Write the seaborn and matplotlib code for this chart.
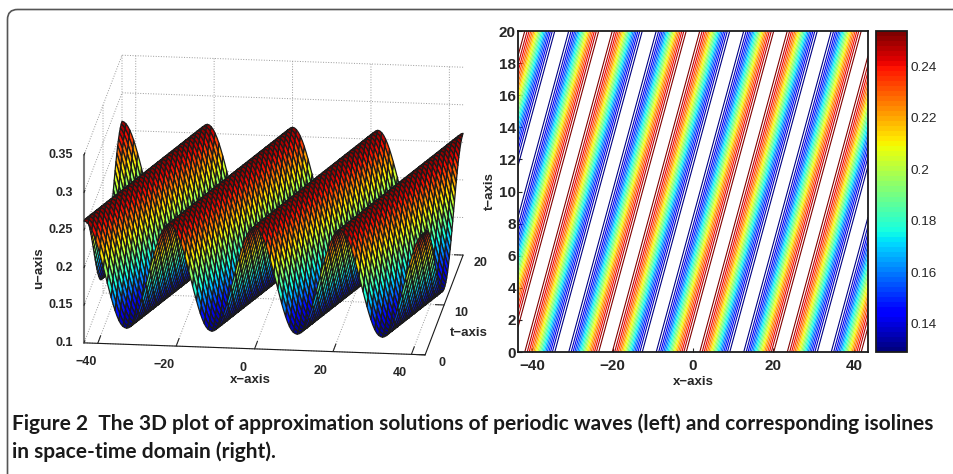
import numpy as np
import matplotlib
matplotlib.use("Agg")
import matplotlib.pyplot as plt
from matplotlib.colors import Normalize
from matplotlib.cm import ScalarMappable
from matplotlib.patches import FancyBboxPatch
from mpl_toolkits.mplot3d import proj3d
import seaborn as sns

# one period of the wave
u_profile = [0.262, 0.2613, 0.2591, 0.2556, 0.2507, 0.2447, 0.2375, 0.2294, 0.2205, 0.2110, 0.2011,
             0.1910, 0.1809, 0.1710, 0.1615, 0.1526, 0.1445, 0.1373, 0.1313, 0.1268, 0.1238, 0.1222,
             0.1215, 0.1222, 0.1238, 0.1268, 0.1313, 0.1373, 0.1445, 0.1526, 0.1615, 0.1710, 0.1809,
             0.1910, 0.2011, 0.2110, 0.2205, 0.2294, 0.2375, 0.2447, 0.2507, 0.2556, 0.2591, 0.2613]
periods = 4
x_range = [-43.5, 43.5]
t_range = [0, 20]
u_range = [0.1, 0.35]
x_ticks = [-40, -20, 0, 20, 40]
t_ticks_3d = [0, 10, 20]
t_ticks_2d = list(range(0, 21, 2))
u_ticks = [0.1, 0.15, 0.2, 0.25, 0.3, 0.35]
u_tick_labels = ["0.1", "0.15", "0.2", "0.25", "0.3", "0.35"]
level_range = [0.1291, 0.2536]
n_levels = 20
cbar_ticks = [0.14, 0.16, 0.18, 0.2, 0.22, 0.24]
cbar_labels = ["0.14", "0.16", "0.18", "0.2", "0.22", "0.24"]
caption = ["Figure 2  The 3D plot of approximation solutions of periodic waves (left) and corresponding isolines",
           "in space-time domain (right)."]

sns.set_theme(style="white")
plt.rcParams["font.family"] = ["Liberation Sans", "DejaVu Sans"]
W, H = 954, 474
fig = plt.figure(figsize=(W / 100, H / 100), dpi=100)
jet64 = plt.get_cmap("jet", 64)

profile = np.array(u_profile)
N = len(profile)
x = np.linspace(x_range[0], x_range[1], periods * N + 1)
t = np.linspace(t_range[0], t_range[1], N + 1)
X, T = np.meshgrid(x, t)
kk, jj = np.meshgrid(np.arange(len(x)), np.arange(len(t)))
U = profile[(kk - jj) % N]


def rect(l, top, r, b):
    return [l / W, 1 - b / H, (r - l) / W, (b - top) / H]


# page frame
frame = FancyBboxPatch((7.5, -40), 1100, 40 + 464.5, boxstyle="round,pad=0,rounding_size=10",
                       transform=None, fc="none", ec="#555555", lw=1.2)
fig.add_artist(frame)

# 3D surface
ax3 = fig.add_axes([16.5 / W, 11.9 / H, 500.6 / W, 500.6 / H], projection="3d", proj_type="ortho")
ax3.patch.set_visible(False)
ax3.view_init(elev=17.7, azim=-83.4)
ax3.set_box_aspect((343, 330, 197))
ax3.plot_surface(X, T, U, cmap="jet", vmin=min(u_profile), vmax=max(u_profile), rstride=1, cstride=2,
                 edgecolor="k", linewidth=0.9, antialiased=True, shade=False)
ax3.set_xlim(x_range)
ax3.set_ylim(t_range)
ax3.set_zlim(u_range)
ax3.set_xticks(x_ticks)
ax3.set_yticks(t_ticks_3d)
ax3.set_zticks(u_ticks)
ax3.set_xticklabels([])
ax3.set_yticklabels([])
ax3.set_zticklabels([])
for axis, out in ((ax3.xaxis, 0.95), (ax3.yaxis, 0.32), (ax3.zaxis, 0.28)):
    axis.set_pane_color((1, 1, 1, 0))
    axis.pane.set_edgecolor((1, 1, 1, 0))
    axis._axinfo["grid"].update(color="#999999", linestyle=":", linewidth=0.7)
    axis._axinfo["tick"].update(inward_factor=0, outward_factor=out, linewidth={True: 0.8, False: 0.8})
    axis.line.set_color("k")
    axis.line.set_linewidth(0.8)
ax3.zaxis.line.set_color("#777777")
ax3.zaxis.line.set_linewidth(1.5)
ax3.zaxis.set_ticks_position("lower")
ax3.zaxis.set_label_position("lower")
ax3.set_xlabel("")
ax3.set_ylabel("")
ax3.set_zlabel("")


def px(xv, tv, uv):
    """Pixel position (from the top left) of a data point of the 3D axes."""
    a, b, _ = proj3d.proj_transform(xv, tv, uv, ax3.get_proj())
    dx, dy = ax3.transData.transform((a, b))
    return dx, H - dy


def label(xp, yp, s, ha="center", size=9, rot=0):
    fig.text(xp / W, 1 - yp / H, s, ha=ha, va="center", fontsize=size, fontweight="bold", rotation=rot)


ax3.apply_aspect()
for v in x_ticks:
    a, b = px(v, t_range[0], u_range[0])
    label(a - 12, b + 19, f"{v}".replace("-", "\u2212"))
for v in t_ticks_3d:
    a, b = px(x_range[1], v, u_range[0])
    label(a + 17, b + 8, f"{v}")
for v, s in zip(u_ticks, u_tick_labels):
    a, b = px(x_range[0], t_range[0], v)
    label(a - 11, b, s, ha="right")
label(250, 380, "x\u2212axis", size=9.5)
label(469, 333, "t\u2212axis", size=9.5)
label(39, 268, "u\u2212axis", size=9.5, rot=90)

# isolines
ax = fig.add_axes(rect(518, 31, 868, 352))
norm = Normalize(*level_range)
levels = np.linspace(level_range[0], level_range[1], n_levels)
ax.contour(X, T, U, levels=levels, cmap=jet64, norm=norm, linewidths=0.8)
ax.set_xlim(x_range)
ax.set_ylim(t_range)
ax.set_xticks(x_ticks)
ax.set_yticks(t_ticks_2d)
ax.tick_params(axis="x", direction="in", length=3, width=0.8, labelsize=11, pad=5, bottom=True)
ax.tick_params(axis="y", direction="in", length=3, width=0.8, labelsize=11, pad=1.5, left=True)
for lab in ax.get_xticklabels() + ax.get_yticklabels():
    lab.set_fontweight("bold")
ax.set_xlabel("x\u2212axis", fontsize=9.5, fontweight="bold", labelpad=2)
ax.set_ylabel("t\u2212axis", fontsize=9.5, fontweight="bold", labelpad=2)
for s in ax.spines.values():
    s.set_color("k")
    s.set_linewidth(1.3)

# colour bar
cax = fig.add_axes(rect(876, 31, 907, 352))
cb = fig.colorbar(ScalarMappable(norm=norm, cmap=jet64), cax=cax)
cb.set_ticks(cbar_ticks)
cb.set_ticklabels(cbar_labels)
cax.tick_params(axis="y", direction="in", length=3, width=0.8, labelsize=9.7, pad=2.5, left=True, right=True, color="k")
cb.outline.set_edgecolor("k")
cb.outline.set_linewidth(1.3)

# caption
for line, y in zip(caption, (424, 452)):
    fig.text(12.5 / W, 1 - y / H, line, fontsize=15, fontweight="bold", family="Lato", va="center", ha="left",
             color="#1a1a1a")

fig.savefig("out.png", dpi=100)
